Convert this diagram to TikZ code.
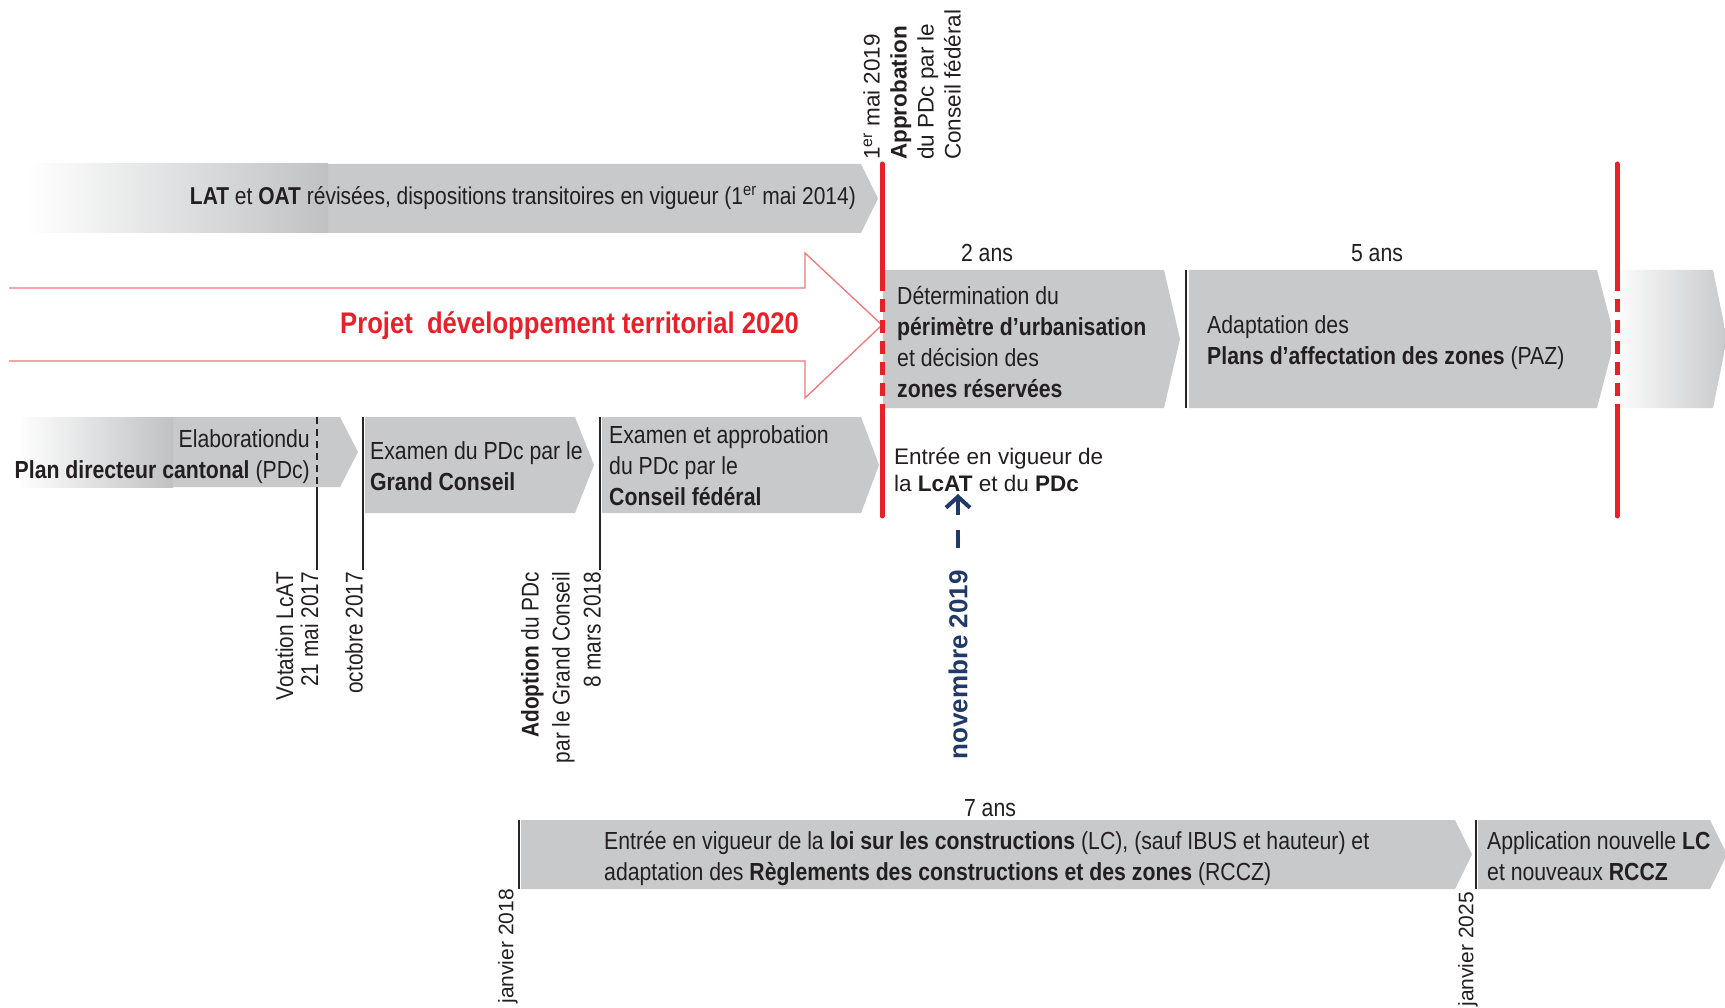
\documentclass[tikz,border=0pt]{standalone}
\usepackage{fontspec}
\setmainfont{Liberation Sans}
\newfontfamily\narrowfont{Liberation Sans}[FakeStretch=0.86]
\usetikzlibrary{arrows.meta,positioning}
\definecolor{boxgray}{RGB}{200,201,203}
\definecolor{fadegray}{RGB}{191,193,195}
\definecolor{pdtred}{RGB}{232,32,42}
\definecolor{pdtpink}{RGB}{242,118,122}
\definecolor{navy}{RGB}{31,58,104}
\definecolor{txt}{RGB}{35,31,32}

\begin{document}
\begin{tikzpicture}
  [x=1pt,y=-1pt,
   every node/.style={inner sep=0pt,text=txt},
   phase/.style={fill=boxgray},
   tick/.style={draw=black!85,line width=1.6pt},
   redline/.style={draw=pdtred,line width=5pt},
   rowtext/.style={font=\narrowfont\fontsize{24.7}{31}\selectfont,align=left,anchor=west},
   datelabel/.style={font=\narrowfont\fontsize{24.2}{25}\selectfont,rotate=90,anchor=east,align=right},
   plain/.style={font=\fontsize{22.5}{27}\selectfont,align=left}]
  \useasboundingbox (0,0) rectangle (1725,1008);
  \fill[white] (0,0) rectangle (1725,1008);

  % gray phases
  \foreach \xl/\xr/\xt/\yt/\yb in {27/861/878/164/233, 883/1164/1180/270/408,
      1189/1597/1615/270/408, 18/340/358/417/487, 365/575/594/417/513,
      602/861/879/417/513, 521/1455/1472/820/889, 1478/1710/1727/820/889}
    \fill[phase] (\xl,\yt) -- (\xr,\yt) -- (\xt,{(\yt+\yb)/2}) -- (\xr,\yb) -- (\xl,\yb) -- cycle;
  \shade[left color=white,right color=fadegray] (27,164) rectangle (328,233);
  \shade[left color=white,right color=fadegray] (18,417) rectangle (173,487);
  \shade[left color=white,right color=boxgray] (1611,270) -- (1713,270) -- (1727,339) -- (1713,408) -- (1611,408) -- cycle;

  % projet arrow
  \draw[pdtpink,line width=1.3pt] (9,288) -- (805,288) -- (805,253) -- (882,325)
    -- (805,398) -- (805,361) -- (9,361);

  % date ticks
  \draw[tick,dash pattern=on 7pt off 5pt] (317,417) -- (317,487);
  \draw[tick] (317,487) -- (317,570);
  \foreach \x in {363,600}
    \draw[tick] (\x,417) -- (\x,570);
  \draw[tick] (1186,270) -- (1186,408);
  \foreach \x in {519,1476}
    \draw[tick] (\x,820) -- (\x,889);

  % red milestones
  \foreach \x in {882,1617} {
    \draw[redline,line cap=round] (\x,164) -- (\x,278);
    \draw[redline,dash pattern=on 13pt off 8pt] (\x,278) -- (\x,407);
    \draw[redline,line cap=round] (\x,407) -- (\x,516);
  }

  % texts
  \node[rowtext,anchor=east,font=\narrowfont\fontsize{24.4}{31}\selectfont] (lat) at (856,198)
    {\textbf{LAT} et \textbf{OAT} révisées, dispositions transitoires en vigueur (1\textsuperscript{er} mai 2014)};
  \node[font=\narrowfont\fontsize{29.8}{31}\selectfont\bfseries,text=pdtred,anchor=east] (projet) at (799,326)
    {Projet\ \ développement territorial 2020};
  \node[plain,rotate=90,anchor=west] (approb) at (912,160)
    {1\textsuperscript{er} mai 2019\\\textbf{Approbation}\\du PDc par le\\Conseil fédéral};

  \node[rowtext,anchor=center] (ans2) at (987,253) {2 ans};
  \node[rowtext,anchor=center] (ans5) at (1377,253) {5 ans};
  \node[rowtext] (perim) at (897,342)
    {Détermination du\\\textbf{périmètre d’urbanisation}\\et décision des\\\textbf{zones réservées}};
  \node[rowtext] (paz) at (1207,343)
    {Adaptation des\\\textbf{Plans d’affectation des zones} (PAZ)};

  \node[rowtext,anchor=east,align=right] (elab) at (310,457)
    {Elaborationdu\\\textbf{Plan directeur cantonal} (PDc)};
  \node[rowtext] (grand) at (370,466)
    {Examen du PDc par le\\\textbf{Grand Conseil}};
  \node[rowtext] (federal) at (609,466)
    {Examen et approbation\\du PDc par le\\\textbf{Conseil fédéral}};
  \node[plain,anchor=west] (vigueur) at (894,470)
    {Entrée en vigueur de\\la \textbf{LcAT} et du \textbf{PDc}};

  \node[datelabel] (votation) at (297,572) {Votation LcAT\\21 mai 2017};
  \node[datelabel] (octobre) at (354,572) {octobre 2017};
  \node[datelabel,font=\narrowfont\fontsize{24.2}{31}\selectfont] (adoption) at (561,572)
    {\textbf{Adoption} du PDc\\par le Grand Conseil\\8 mars 2018};
  \node[font=\fontsize{26}{30}\selectfont\bfseries,text=navy,rotate=90,anchor=east] (novembre) at (958,570)
    {novembre 2019};

  \coordinate (navytail) at (958,548);
  \coordinate (navytip) at (958,494);
  \draw[navy,line width=4pt,dash pattern=on 18pt off 15pt,-{Straight Barb[length=11pt,width=24pt]}]
    (navytail) -- (navytip);

  \node[rowtext,anchor=center] (ans7) at (990,808) {7 ans};
  \node[rowtext] (lc) at (604,859)
    {Entrée en vigueur de la \textbf{loi sur les constructions} (LC), (sauf IBUS et hauteur) et\\adaptation des \textbf{Règlements des constructions et des zones} (RCCZ)};
  \node[rowtext] (rccz) at (1487,856)
    {Application nouvelle \textbf{LC}\\et nouveaux \textbf{RCCZ}};
  \node[font=\fontsize{21}{25}\selectfont,rotate=90,anchor=east] (jan18) at (508,889) {janvier 2018};
  \node[font=\fontsize{21}{25}\selectfont,rotate=90,anchor=east] (jan25) at (1468,892) {janvier 2025};
\end{tikzpicture}
\end{document}
